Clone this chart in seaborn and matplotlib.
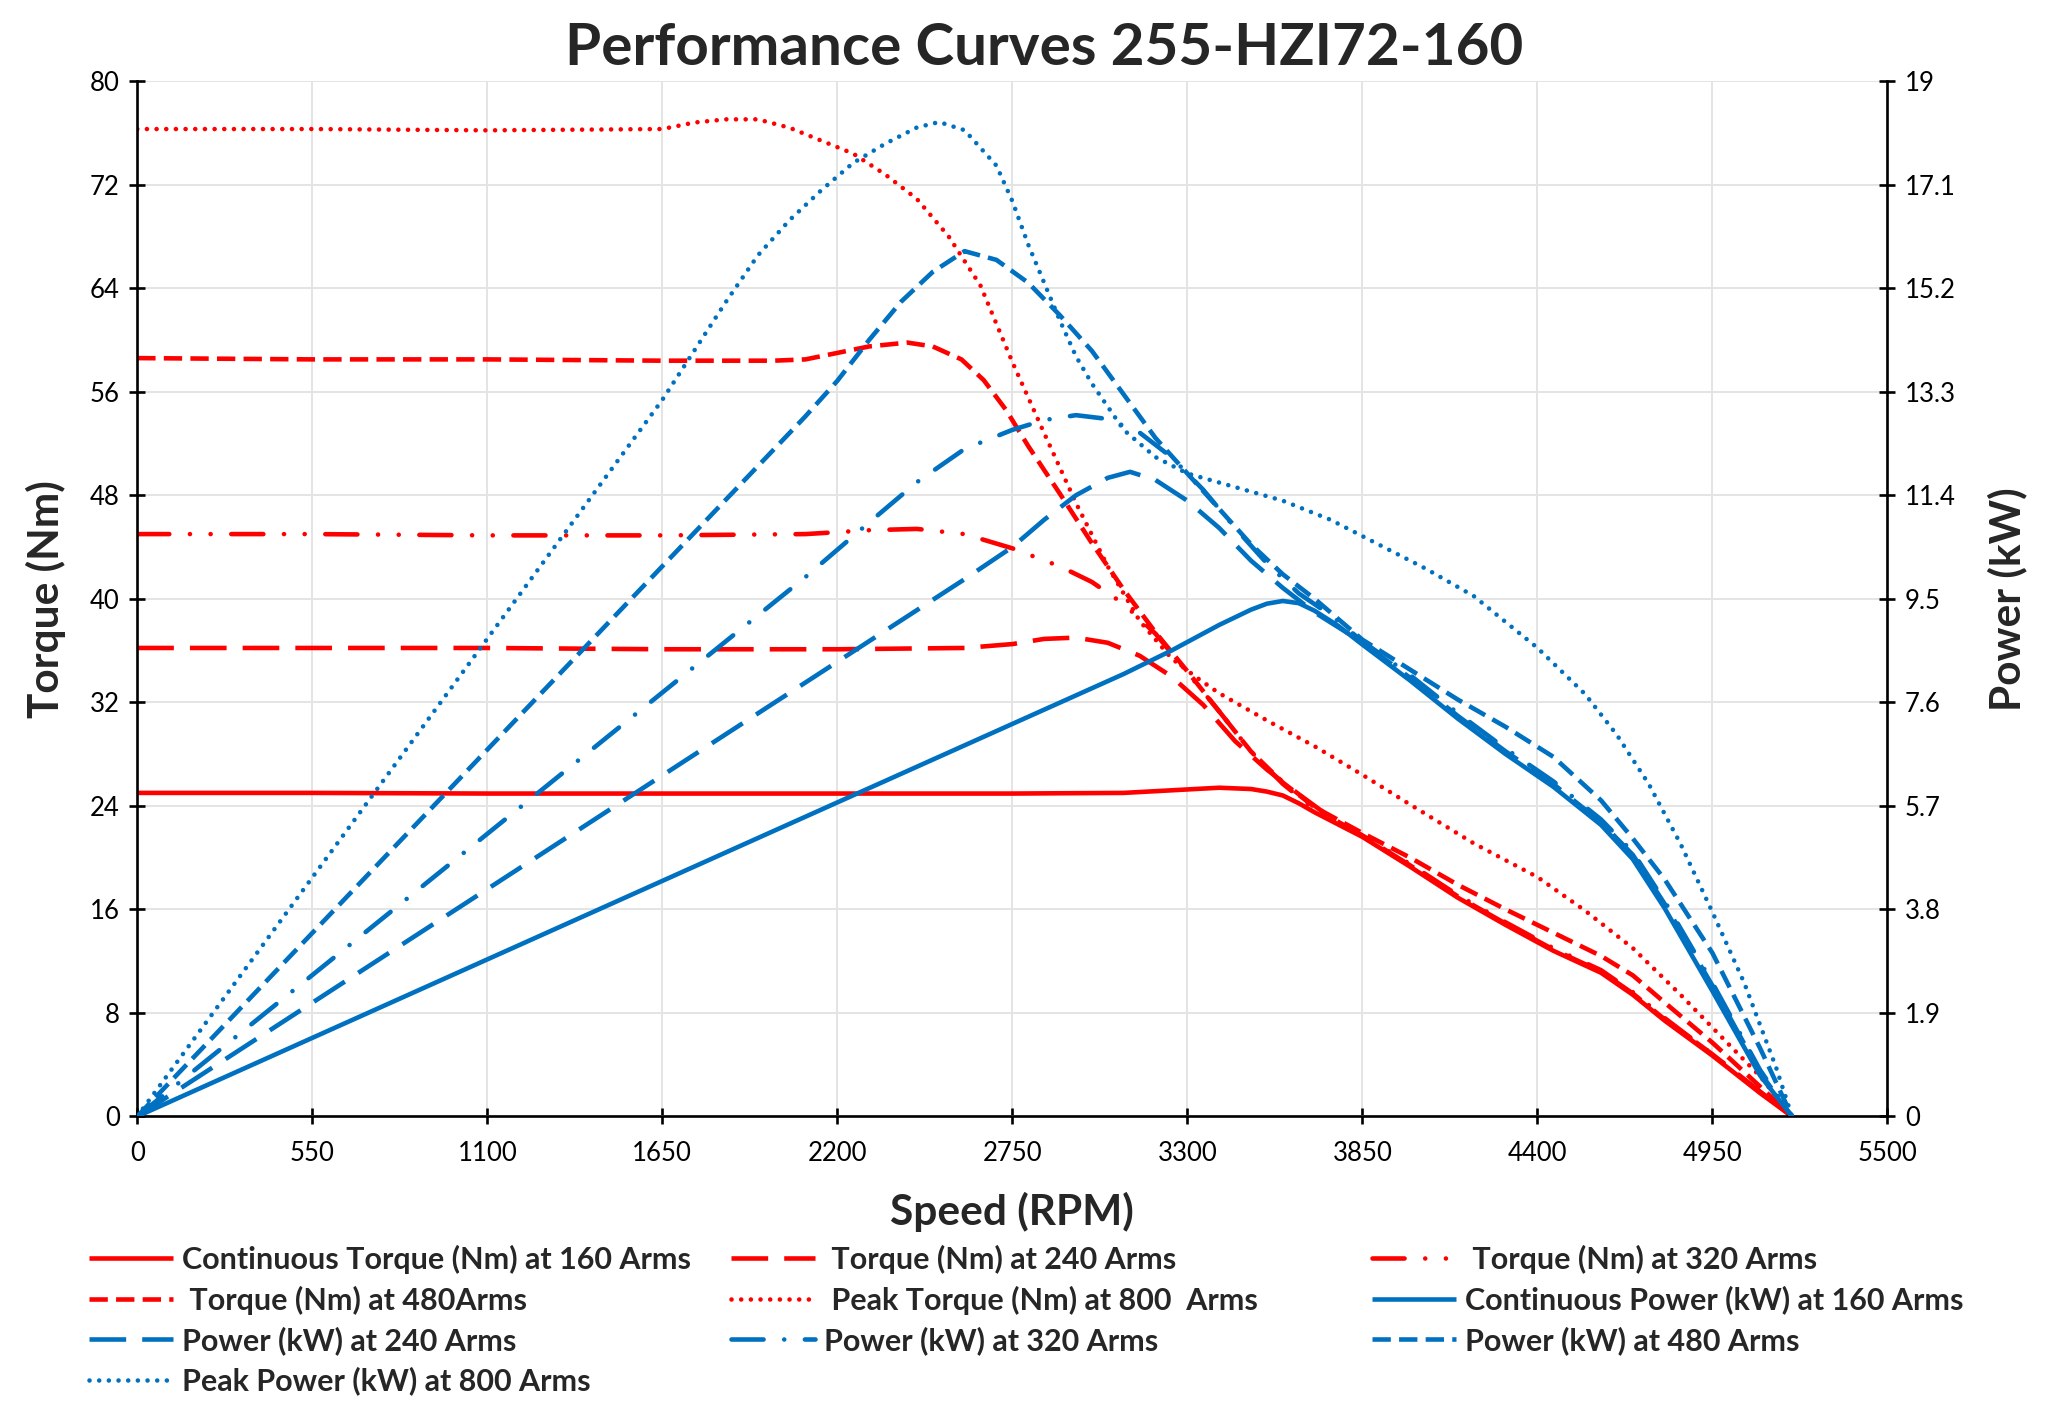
import matplotlib
matplotlib.use("Agg")
import numpy as np
import seaborn as sns
import matplotlib.pyplot as plt

# ---- values (speed in RPM) ----
# torque curves (Nm)
rpm_t160 = [0, 550, 1100, 1650, 2200, 2750, 3100, 3250, 3400, 3500, 3550, 3600, 3650, 3700, 3850,
            4000, 4150, 4300, 4450, 4600, 4700, 4800, 4950, 5100, 5200]
torque_160 = [25.0, 25.0, 24.95, 24.95, 24.95, 24.95, 25.0, 25.2, 25.4, 25.3, 25.1, 24.8, 24.2, 23.5, 21.6,
              19.3, 16.9, 14.8, 12.8, 11.1, 9.4, 7.4, 4.7, 1.8, 0.0]

rpm_t240 = [0, 550, 1100, 1650, 2200, 2600, 2750, 2850, 2950, 3050, 3150, 3250, 3350, 3450, 3550,
            3650, 3750, 3850, 4000, 4150, 4300, 4450, 4600, 4700, 4800, 4950, 5100, 5200]
torque_240 = [36.2, 36.2, 36.2, 36.1, 36.1, 36.2, 36.5, 36.9, 37.0, 36.6, 35.6, 34.0, 31.8, 29.0, 26.8,
              24.9, 23.1, 21.7, 19.4, 17.0, 14.9, 12.9, 11.2, 9.5, 7.5, 4.8, 1.9, 0.0]

rpm_t320 = [0, 550, 1100, 1650, 2100, 2300, 2450, 2600, 2750, 2900, 3000, 3100, 3200, 3300, 3400,
            3500, 3600, 3700, 3850, 4000, 4150, 4300, 4450, 4600, 4700, 4800, 4950, 5100, 5200]
torque_320 = [45.0, 45.0, 44.9, 44.9, 45.0, 45.3, 45.4, 45.0, 43.9, 42.5, 41.3, 39.6, 37.3, 34.3, 31.3,
              28.2, 25.7, 23.7, 21.7, 19.5, 17.1, 15.0, 13.0, 11.3, 9.6, 7.6, 4.8, 1.9, 0.0]

rpm_t480 = [0, 550, 1100, 1650, 2000, 2100, 2200, 2300, 2420, 2500, 2590, 2660, 2730, 2800, 2900,
            3000, 3100, 3200, 3300, 3400, 3500, 3600, 3700, 3850, 4000, 4150, 4300, 4450, 4600,
            4700, 4800, 4950, 5100, 5200]
torque_480 = [58.6, 58.5, 58.5, 58.4, 58.4, 58.5, 59.0, 59.5, 59.8, 59.5, 58.5, 56.9, 54.6, 51.8, 48.1,
              44.3, 40.7, 37.4, 34.4, 31.3, 28.2, 25.8, 23.9, 21.9, 20.0, 17.9, 16.0, 14.2, 12.4,
              10.9, 8.8, 5.7, 2.3, 0.0]

rpm_t800 = [0, 550, 1100, 1650, 1750, 1850, 1950, 2050, 2150, 2250, 2350, 2450, 2550, 2650, 2750,
            2850, 2950, 3050, 3150, 3250, 3330, 3400, 3550, 3700, 3850, 4000, 4200, 4400, 4550,
            4700, 4850, 5000, 5100, 5200]
torque_800 = [76.3, 76.3, 76.2, 76.3, 76.8, 77.05, 77.05, 76.4, 75.4, 74.4, 72.8, 70.9, 68.0, 64.2, 58.3,
              52.8, 47.4, 42.5, 38.3, 35.4, 33.9, 32.7, 30.6, 28.6, 26.4, 24.1, 21.1, 18.5, 15.9,
              13.0, 9.4, 5.6, 3.1, 0.0]

# power curves (kW)
rpm_p160 = [0, 3100, 3250, 3400, 3500, 3550, 3600, 3650, 3700, 3775, 3850, 4000, 4150, 4300, 4450,
            4600, 4700, 4800, 4950, 5100, 5200]
power_160 = [0.0, 8.12, 8.55, 9.02, 9.3, 9.41, 9.46, 9.42, 9.28, 9.0, 8.66, 8.0, 7.3, 6.65, 6.05,
             5.35, 4.72, 3.82, 2.3, 0.75, 0.0]

rpm_p240 = [0, 2600, 2750, 2850, 2950, 3050, 3120, 3200, 3300, 3400, 3500, 3600, 3700, 3850,
            4000, 4150, 4300, 4450, 4600, 4700, 4800, 4950, 5100, 5200]
power_240 = [0.0, 9.86, 10.45, 10.95, 11.4, 11.72, 11.83, 11.68, 11.3, 10.8, 10.2, 9.7, 9.25, 8.7,
             8.05, 7.35, 6.7, 6.1, 5.4, 4.8, 3.9, 2.4, 0.8, 0.0]

rpm_p320 = [0, 2100, 2300, 2450, 2600, 2750, 2850, 2950, 3050, 3150, 3250, 3350, 3450, 3550,
            3650, 3750, 3850, 4000, 4150, 4300, 4450, 4600, 4700, 4800, 4950, 5100, 5200]
power_320 = [0.0, 9.9, 10.9, 11.64, 12.25, 12.6, 12.78, 12.87, 12.8, 12.55, 12.1, 11.5, 10.8, 10.15,
             9.6, 9.2, 8.72, 8.1, 7.4, 6.75, 6.15, 5.45, 4.85, 3.95, 2.45, 0.85, 0.0]

rpm_p480 = [0, 2100, 2200, 2300, 2400, 2500, 2600, 2700, 2800, 2900, 3000, 3100, 3200, 3300,
            3400, 3500, 3600, 3700, 3850, 4000, 4150, 4300, 4450, 4600, 4700, 4800, 4950, 5100, 5200]
power_480 = [0.0, 12.85, 13.5, 14.25, 14.95, 15.5, 15.88, 15.72, 15.3, 14.7, 14.05, 13.25, 12.45, 11.8,
             11.15, 10.5, 9.95, 9.5, 8.75, 8.2, 7.65, 7.15, 6.6, 5.8, 5.1, 4.35, 3.0, 1.25, 0.0]

rpm_p800 = [0, 1650, 1750, 1850, 1950, 2050, 2150, 2250, 2350, 2450, 2520, 2600, 2700, 2750,
            2800, 2850, 2900, 2950, 3000, 3100, 3200, 3300, 3450, 3600, 3750, 3900, 4050, 4200,
            4400, 4550, 4650, 4750, 4850, 4950, 5050, 5150, 5200]
power_800 = [0.0, 13.15, 14.05, 14.95, 15.8, 16.45, 17.0, 17.5, 17.85, 18.15, 18.25, 18.1, 17.45, 16.8,
             16.0, 15.3, 14.6, 13.95, 13.45, 12.6, 12.1, 11.8, 11.55, 11.3, 10.95, 10.5, 10.05, 9.55,
             8.6, 7.75, 7.0, 6.1, 5.0, 3.75, 2.45, 0.9, 0.0]

speed_ticks = [0, 550, 1100, 1650, 2200, 2750, 3300, 3850, 4400, 4950, 5500]
torque_ticks = [0, 8, 16, 24, 32, 40, 48, 56, 64, 72, 80]
power_ticks = [0, 1.9, 3.8, 5.7, 7.6, 9.5, 11.4, 13.3, 15.2, 17.1, 19]

RED = "#FF0000"
BLUE = "#0070C0"
LW = 3.3

# line styles (Excel-like dash patterns, in linewidth units)
SOLID = "-"
LONG_DASH = (0, (8, 3.5))
SHORT_DASH = (0, (4, 1.8))
ROUND_DOT = (0, (0.01, 2.1))
LONG_DASH_DOT = (0, (7, 4.5, 0.01, 4.5))
LONG_DASH_DOT_DOT = (0, (7, 4.5, 0.01, 4.5, 0.01, 4.5))

sns.set_style("white")
plt.rcParams["font.family"] = ["Lato", "DejaVu Sans"]

fig = plt.figure(figsize=(20.48, 14.24), dpi=100)
ax = fig.add_axes([0.067, 0.216, 0.8546, 0.727])
ax2 = ax.twinx()


def draw(axis, x, y, color, ls, cap="butt"):
    sns.lineplot(x=x, y=y, ax=axis, color=color, linestyle=ls, linewidth=LW,
                 estimator=None, errorbar=None, sort=True,
                 dash_capstyle=cap, solid_capstyle=cap)
    return axis.lines[-1]


h = {}
h["t160"] = draw(ax, rpm_t160, torque_160, RED, SOLID)
h["t240"] = draw(ax, rpm_t240, torque_240, RED, LONG_DASH)
h["t320"] = draw(ax, rpm_t320, torque_320, RED, LONG_DASH_DOT_DOT, "round")
h["t480"] = draw(ax, rpm_t480, torque_480, RED, SHORT_DASH)
h["t800"] = draw(ax, rpm_t800, torque_800, RED, ROUND_DOT, "round")

h["p160"] = draw(ax2, rpm_p160, power_160, BLUE, SOLID)
h["p240"] = draw(ax2, rpm_p240, power_240, BLUE, LONG_DASH)
h["p320"] = draw(ax2, rpm_p320, power_320, BLUE, LONG_DASH_DOT, "round")
h["p480"] = draw(ax2, rpm_p480, power_480, BLUE, SHORT_DASH)
h["p800"] = draw(ax2, rpm_p800, power_800, BLUE, ROUND_DOT, "round")

# axes, ticks, grid
ax.set_xlim(0, 5500)
ax.set_ylim(0, 80)
ax2.set_ylim(0, 19)
ax.set_xticks(speed_ticks)
ax.set_yticks(torque_ticks)
ax2.set_yticks(power_ticks, labels=[f"{v:g}" for v in power_ticks])
ax.set_xlabel("")
ax.set_ylabel("")
ax2.set_ylabel("")

ax.grid(True, color="#E4E4E4", linewidth=1.4)
ax.set_axisbelow(True)
ax2.grid(False)

for a in (ax, ax2):
    for s in a.spines.values():
        s.set_color("black")
        s.set_linewidth(1.9)
    a.spines["top"].set_visible(False)
ax.spines["right"].set_visible(False)
ax2.spines["left"].set_visible(False)
ax2.spines["bottom"].set_visible(False)

tick_kw = dict(direction="inout", length=11, width=1.9, labelsize=18.5, colors="black")
ax.tick_params(axis="x", bottom=True, pad=12, **tick_kw)
ax.tick_params(axis="y", left=True, pad=7, **tick_kw)
ax2.tick_params(axis="y", right=True, pad=7, **tick_kw)

# titles / labels
fig.text(0.51, 0.966, "Performance Curves 255-HZI72-160", ha="center", va="center",
         fontsize=42, fontweight="bold")
fig.text(0.494, 0.149, "Speed (RPM)", ha="center", va="center", fontsize=30.5, fontweight="bold")
fig.text(0.0225, 0.579, "Torque (Nm)", ha="center", va="center", rotation=90,
         fontsize=30.5, fontweight="bold")
fig.text(0.980, 0.579, "Power (kW)", ha="center", va="center", rotation=90,
         fontsize=30.5, fontweight="bold")

# legend laid out in three fixed columns, filled row by row
legend_cols = [
    [("t160", "Continuous Torque (Nm) at 160 Arms"),
     ("t480", " Torque (Nm) at 480Arms"),
     ("p240", "Power (kW) at 240 Arms"),
     ("p800", "Peak Power (kW) at 800 Arms")],
    [("t240", " Torque (Nm) at 240 Arms"),
     ("t800", " Peak Torque (Nm) at 800  Arms"),
     ("p320", "Power (kW) at 320 Arms")],
    [("t320", " Torque (Nm) at 320 Arms"),
     ("p160", "Continuous Power (kW) at 160 Arms"),
     ("p480", "Power (kW) at 480 Arms")],
]
col_x = [0.0434, 0.357, 0.670]
for x, col in zip(col_x, legend_cols):
    fig.legend([h[k] for k, _ in col], [lab for _, lab in col], loc="upper left",
               bbox_to_anchor=(x, 0.1258), frameon=False, borderpad=0, borderaxespad=0,
               handlelength=2.75, handletextpad=0.3, labelspacing=0.375,
               prop=dict(weight="bold", size=22))

fig.savefig("out.png", dpi=100)
